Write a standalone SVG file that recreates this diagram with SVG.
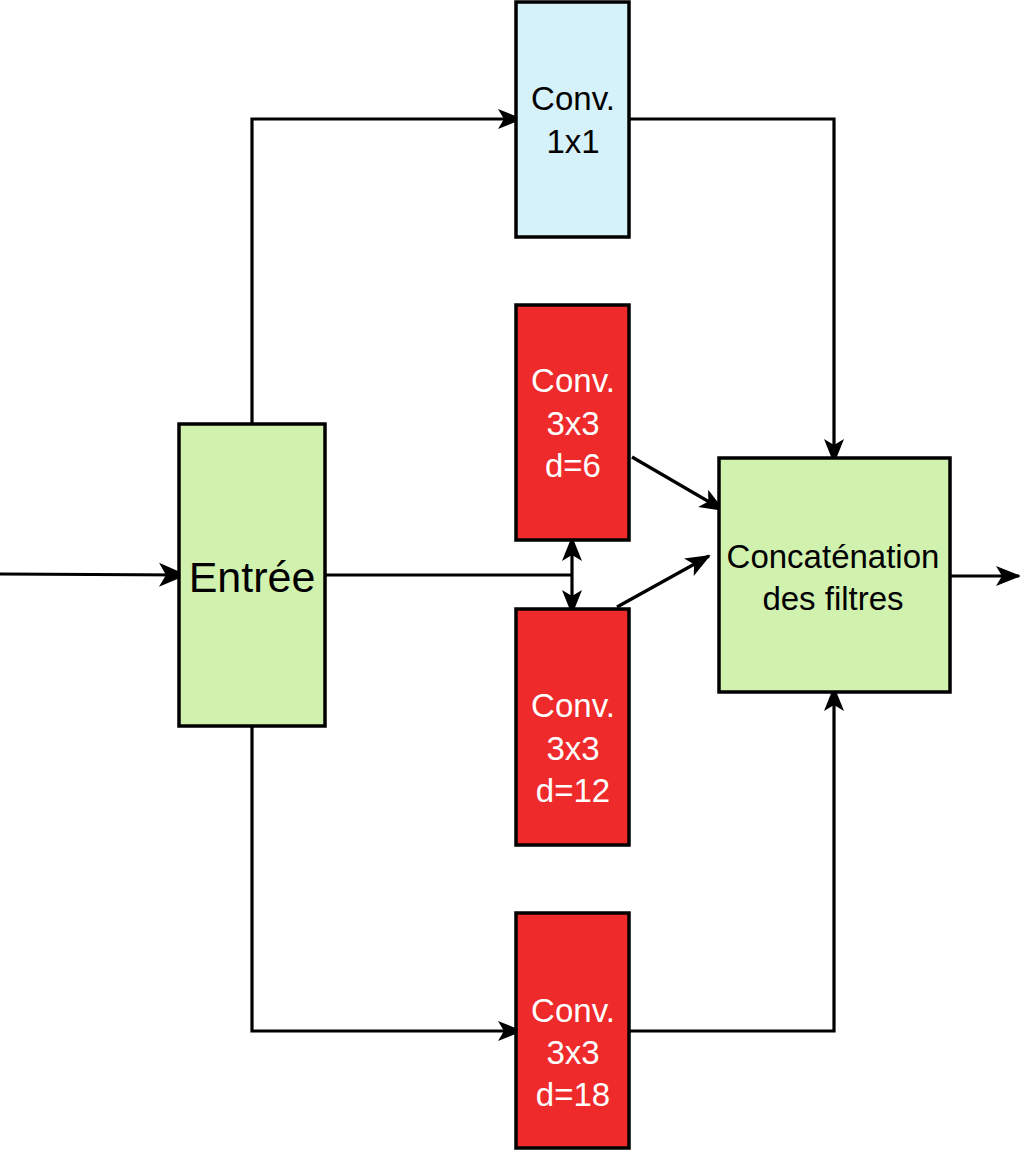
<svg xmlns="http://www.w3.org/2000/svg" width="1020" height="1151" viewBox="0 0 1020 1151">
<defs>
<style>
.box{stroke:#000;stroke-width:3.5}
.green{fill:#d1f2ae}
.blue{fill:#d5f1f9}
.red{fill:#ee2a2a}
.t{font-family:"Liberation Sans",Arial,sans-serif;font-size:33px;text-anchor:middle}
.tb{fill:#000}
.tw{fill:#fff}
.ln{fill:none;stroke:#000;stroke-width:3.2}
</style>
<marker id="arr" markerUnits="userSpaceOnUse" markerWidth="30" markerHeight="26" refX="26" refY="12" orient="auto" overflow="visible">
<path d="M0,0 L28,12 L0,24 L7,12 Z" fill="#000"/>
</marker>
<marker id="arrs" markerUnits="userSpaceOnUse" markerWidth="28" markerHeight="22" refX="23" refY="10" orient="auto-start-reverse" overflow="visible">
<path d="M0,0 L25,10 L0,20 L6,10 Z" fill="#000"/>
</marker>
</defs>
<rect width="1020" height="1151" fill="#fff"/>
<g id="connectors">
<path class="ln" d="M0,574 L185,575" marker-end="url(#arr)"/>
<path class="ln" d="M252,424 L252,119 L521,119" marker-end="url(#arrs)"/>
<path class="ln" d="M629,119 L834,119 L834,462" marker-end="url(#arrs)"/>
<path class="ln" d="M252,726 L252,1031 L521,1031" marker-end="url(#arrs)"/>
<path class="ln" d="M629,1031 L834,1031 L834,688" marker-end="url(#arrs)"/>
<path class="ln" d="M325,575 L572,575"/>
<path class="ln" d="M572,538 L572,613" marker-start="url(#arrs)" marker-end="url(#arrs)"/>
<path class="ln" d="M632,457 L723,510" marker-end="url(#arrs)"/>
<path class="ln" d="M617,607 L709,556" marker-end="url(#arrs)"/>
<path class="ln" d="M950,576 L1019,576" marker-end="url(#arrs)"/>
</g>
<g id="entree">
<rect class="box green" x="179" y="424" width="146" height="302"/>
<text class="t tb" x="252" y="592" style="font-size:43px">Entrée</text>
</g>
<g id="conv1x1">
<rect class="box blue" x="516" y="2" width="113" height="235"/>
<text class="t tb" x="573" y="110">Conv.</text>
<text class="t tb" x="573" y="153">1x1</text>
</g>
<g id="conv_d6">
<rect class="box red" x="516" y="305" width="113" height="235"/>
<text class="t tw" x="573" y="392">Conv.</text>
<text class="t tw" x="573" y="435">3x3</text>
<text class="t tw" x="573" y="477">d=6</text>
</g>
<g id="conv_d12">
<rect class="box red" x="516" y="609" width="113" height="236"/>
<text class="t tw" x="573" y="717">Conv.</text>
<text class="t tw" x="573" y="760">3x3</text>
<text class="t tw" x="573" y="802">d=12</text>
</g>
<g id="conv_d18">
<rect class="box red" x="516" y="913" width="113" height="235"/>
<text class="t tw" x="573" y="1022">Conv.</text>
<text class="t tw" x="573" y="1064">3x3</text>
<text class="t tw" x="573" y="1106">d=18</text>
</g>
<g id="concat">
<rect class="box green" x="719" y="458" width="231" height="234"/>
<text class="t tb" x="833" y="568">Concaténation</text>
<text class="t tb" x="833" y="610">des filtres</text>
</g>
</svg>
